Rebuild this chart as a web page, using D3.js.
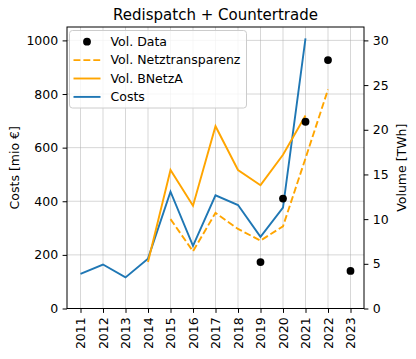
<!DOCTYPE html>
<html>
<head>
<meta charset="utf-8">
<script src="https://cdn.jsdelivr.net/npm/d3@7"></script>
<style>
    body { margin: 0; background: #fff; }
    svg { font-family: "DejaVu Sans", sans-serif; }
</style>
</head>
<body>
<div class="canvas"></div>
<script>
// Data
const tickYears = [2011, 2012, 2013, 2014, 2015, 2016, 2017, 2018, 2019, 2020, 2021, 2022, 2023];

const costYears = [2011, 2012, 2013, 2014, 2015, 2016, 2017, 2018, 2019, 2020, 2021];
const costs = [129, 164, 116, 186, 436, 234, 422, 386, 267, 376, 1008];

const bnetzaYears = [2014, 2015, 2016, 2017, 2018, 2019, 2020, 2021];
const bnetzaVol = [5.2, 15.5, 11.5, 20.4, 15.5, 13.8, 17.2, 21.6];

const netzYears = [2015, 2016, 2017, 2018, 2019, 2020, 2021, 2022];
const netzVol = [10.0, 6.4, 10.7, 8.9, 7.6, 9.2, 16.8, 24.5];

const dataYears = [2019, 2020, 2021, 2022, 2023];
const dataVol = [5.2, 12.3, 20.9, 27.8, 4.2];

const leftTicks = [0, 200, 400, 600, 800, 1000];
const rightTicks = [0, 5, 10, 15, 20, 25, 30];

// Dimensions
const dims = { width: 416, height: 359, left: 67, right: 52, top: 27, bottom: 50.5 };
dims.w = dims.width - dims.left - dims.right;
dims.h = dims.height - dims.top - dims.bottom;

const blue = '#1f77b4';
const orange = '#ffa500';

const svg = d3.select('.canvas')
    .append('svg')
    .attr('width', dims.width)
    .attr('height', dims.height);

const graph = svg.append('g')
    .attr('transform', `translate(${dims.left}, ${dims.top})`);

// Scales
const x = d3.scaleLinear().domain([2010.4, 2023.6]).range([0, dims.w]);
const yCost = d3.scaleLinear().domain([0, 1050]).range([dims.h, 0]);
const yVol = d3.scaleLinear().domain([0, 31.5]).range([dims.h, 0]);

// Grid
const grid = graph.append('g').attr('stroke', '#b0b0b0').attr('stroke-opacity', 0.5).attr('stroke-width', 1);
grid.selectAll('.vg').data(tickYears).enter().append('line')
    .attr('x1', d => x(d)).attr('x2', d => x(d))
    .attr('y1', 0).attr('y2', dims.h);
grid.selectAll('.hg').data(leftTicks).enter().append('line')
    .attr('x1', 0).attr('x2', dims.w)
    .attr('y1', d => yCost(d)).attr('y2', d => yCost(d));

// Axes
const xAxis = d3.axisBottom(x).tickValues(tickYears).tickFormat(d3.format('d')).tickSize(4.4).tickPadding(4.4);
const leftAxis = d3.axisLeft(yCost).tickValues(leftTicks).tickFormat(d3.format('d')).tickSize(4.4).tickPadding(4.4);
const rightAxis = d3.axisRight(yVol).tickValues(rightTicks).tickFormat(d3.format('d')).tickSize(4.4).tickPadding(4.4);

const xg = graph.append('g').attr('transform', `translate(0, ${dims.h})`).call(xAxis);
xg.selectAll('text')
    .attr('transform', 'rotate(-90)')
    .attr('x', -8.8).attr('y', 0).attr('dy', '0.35em')
    .style('text-anchor', 'end');
const lg = graph.append('g').call(leftAxis);
const rg = graph.append('g').attr('transform', `translate(${dims.w}, 0)`).call(rightAxis);

[xg, lg, rg].forEach(g => {
    g.select('.domain').remove();
    g.selectAll('line').attr('stroke', '#000').attr('stroke-width', 1);
    g.selectAll('text').attr('fill', '#000').style('font-size', '12.5px')
        .style('font-family', '"DejaVu Sans", sans-serif');
});

// Lines
const lineCost = d3.line().x((d, i) => x(costYears[i])).y(d => yCost(d));
const lineVol = years => d3.line().x((d, i) => x(years[i])).y(d => yVol(d));

graph.append('path').datum(costs)
    .attr('d', lineCost).attr('fill', 'none')
    .attr('stroke', blue).attr('stroke-width', 1.9);

graph.append('path').datum(netzVol)
    .attr('d', lineVol(netzYears)).attr('fill', 'none')
    .attr('stroke', orange).attr('stroke-width', 1.9)
    .attr('stroke-dasharray', '6.9,3');

graph.append('path').datum(bnetzaVol)
    .attr('d', lineVol(bnetzaYears)).attr('fill', 'none')
    .attr('stroke', orange).attr('stroke-width', 1.9);

graph.selectAll('circle.dot').data(dataVol).enter().append('circle')
    .attr('class', 'dot')
    .attr('cx', (d, i) => x(dataYears[i]))
    .attr('cy', d => yVol(d))
    .attr('r', 3.9)
    .attr('fill', '#000');

// Frame
graph.append('rect')
    .attr('width', dims.w).attr('height', dims.h)
    .attr('fill', 'none').attr('stroke', '#000').attr('stroke-width', 1);

// Titles
svg.append('text')
    .attr('x', dims.left + dims.w / 2).attr('y', 20)
    .attr('text-anchor', 'middle').style('font-size', '15px')
    .text('Redispatch + Countertrade');

svg.append('text')
    .attr('transform', `translate(19, ${dims.top + dims.h / 2}) rotate(-90)`)
    .attr('text-anchor', 'middle').style('font-size', '12.5px')
    .text('Costs [mio €]');

svg.append('text')
    .attr('transform', `translate(406, ${dims.top + dims.h / 2}) rotate(-90)`)
    .attr('text-anchor', 'middle').style('font-size', '12.5px')
    .text('Volume [TWh]');

// Legend
const legendItems = [
    { label: 'Vol. Data', type: 'dot' },
    { label: 'Vol. Netztransparenz', type: 'dash' },
    { label: 'Vol. BNetzA', type: 'line', color: orange },
    { label: 'Costs', type: 'line', color: blue }
];

const legend = svg.append('g').attr('transform', 'translate(69.5, 30.5)');
legend.append('rect')
    .attr('width', 177).attr('height', 77.5).attr('rx', 3)
    .attr('fill', '#fff').attr('fill-opacity', 0.8)
    .attr('stroke', '#cccccc').attr('stroke-width', 1);

const entries = legend.selectAll('g.entry').data(legendItems).enter().append('g')
    .attr('class', 'entry')
    .attr('transform', (d, i) => `translate(0, ${11.2 + i * 18.4})`);

entries.each(function(d) {
    const g = d3.select(this);
    if (d.type === 'dot') {
        g.append('circle').attr('cx', 17.5).attr('cy', 0).attr('r', 3.9).attr('fill', '#000');
    } else {
        g.append('line').attr('x1', 4).attr('x2', 31).attr('y1', 0).attr('y2', 0)
            .attr('stroke', d.color || orange).attr('stroke-width', 1.9)
            .attr('stroke-dasharray', d.type === 'dash' ? '6.9,3' : null);
    }
    g.append('text').attr('x', 41).attr('y', 0).attr('dy', '0.35em')
        .style('font-size', '12.5px').text(d.label);
});
</script>
</body>
</html>
